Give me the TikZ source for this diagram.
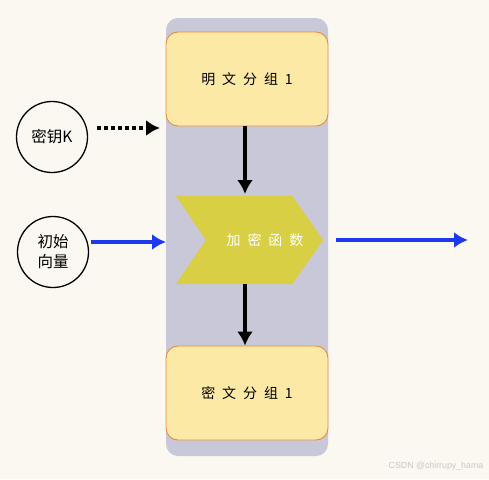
\documentclass[tikz,border=0pt]{standalone}
\usepackage{fontspec}
\setmainfont{Noto Sans CJK SC}[WordSpace=2.2]
\newfontfamily\markfont{Liberation Sans}
\usetikzlibrary{arrows.meta}
\definecolor{paper}{RGB}{250,248,240}
\definecolor{panelgray}{RGB}{200,200,217}
\definecolor{boxfill}{RGB}{252,233,166}
\definecolor{boxline}{RGB}{234,140,64}
\definecolor{chevfill}{RGB}{216,207,69}
\definecolor{ivblue}{RGB}{30,58,236}
\tikzset{
    block/.style={draw=boxline, line width=0.9pt, fill=boxfill, rounded corners=12pt,
        minimum width=162pt, minimum height=94pt, font=\fontsize{14}{16}\selectfont},
    source/.style={circle, draw, line width=1.3pt, minimum size=71pt, align=center,
        font=\fontsize{15.5}{20}\selectfont},
    flow/.style={line width=3.8pt, -{Latex[length=14pt,width=16pt]}},
}
\begin{document}
\begin{tikzpicture}[x=1pt,y=-1pt]
        \fill[paper] (0,0) rectangle (489,479);
        \useasboundingbox (0,0) rectangle (489,479);

        %panel
        \fill[panelgray, rounded corners=12pt] (166,18) rectangle (328,456);

        %blocks
        \node (plain) at (247,79) [block] {明 文 分 组 1};
        \node (cipher) at (247,393) [block] {密 文 分 组 1};
        \node (enc) at (249.5,240) [minimum width=147pt, minimum height=88pt, inner sep=0pt] {};
        \fill[chevfill] (enc.north west) -- ([xshift=-31pt]enc.north east) -- (enc.east)
            -- ([xshift=-31pt]enc.south east) -- (enc.south west) -- ([xshift=30pt]enc.west) -- cycle;
        \node (enctext) at (265,240) [text=white, font=\fontsize{14}{16}\selectfont] {加 密 函 数};

        %inputs
        \node (key) at (52,137) [source] {密钥K};
        \node (iv) at (53,252) [source] {初始\\向量};
        \coordinate (keyout) at (97,128);
        \coordinate (keyin) at (160,128);
        \coordinate (ivout) at (91,242);
        \coordinate (ivin) at (166,242);
        \coordinate (encout) at (336,240);
        \coordinate (result) at (468,240);

        %arrows
        \draw[flow] (plain.south -| 245,0) -- (245,194);
        \draw[flow] (245,284) -- (cipher.north -| 245,0);
        \draw[flow, dash pattern=on 3.6pt off 3.4pt] (keyout) -- (keyin);
        \draw[flow, ivblue] (ivout) -- (ivin);
        \draw[flow, ivblue] (encout) -- (result);

        %mark
        \node (mark) at (436,466) [text=black!22, font=\markfont\fontsize{8.8}{10}\selectfont] {CSDN @chirrupy\_hama};
    \end{tikzpicture}
\end{document}
